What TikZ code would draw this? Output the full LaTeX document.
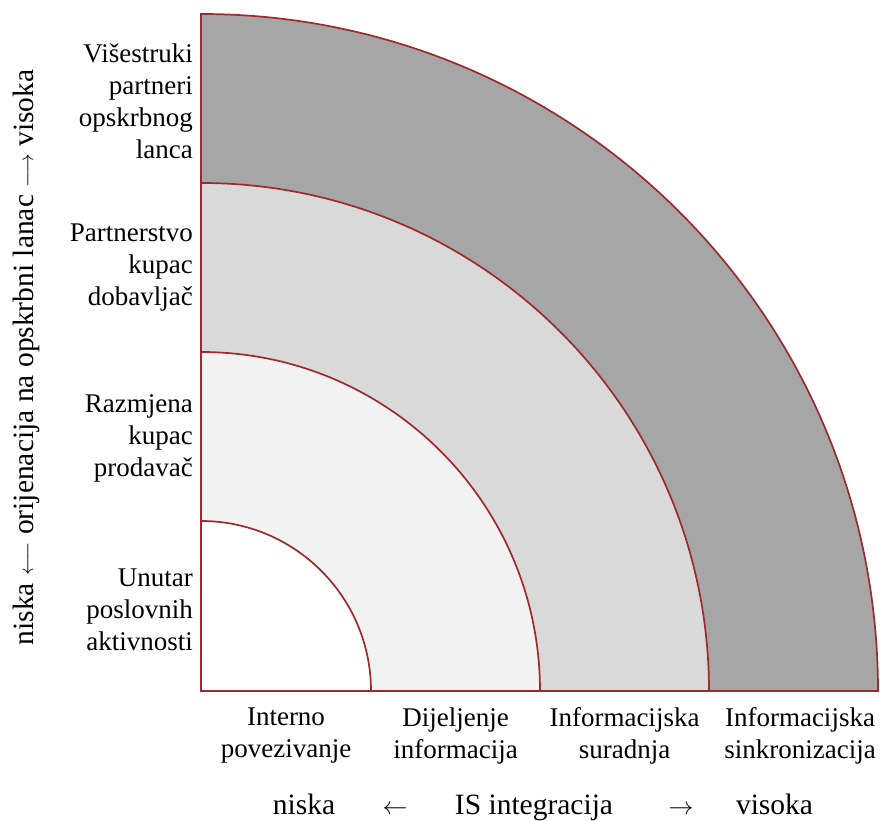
\documentclass[tikz,border=0pt]{standalone}
\usepackage{fontspec}
\setmainfont{Liberation Serif}
\definecolor{edge}{HTML}{9E2A2B}
\definecolor{bandA}{HTML}{A6A6A6}
\definecolor{bandB}{HTML}{D9D9D9}
\definecolor{bandC}{HTML}{F2F2F2}
\newcommand{\axfont}{\fontsize{29.5}{35}\selectfont}
\newcommand{\shortarr}[1]{{\fontsize{24.88}{30}\selectfont$#1$}}
\newcommand{\longarr}[1]{{\fontsize{20.74}{25}\selectfont$#1$}}
\tikzset{
  band/.style={draw=edge, line width=1.7pt, line join=miter},
  lbl/.style={inner sep=0pt, font=\fontsize{27}{32}\selectfont},
  leftlbl/.style={lbl, align=right, anchor=east},
  botlbl/.style={lbl, align=center, anchor=center},
  axis/.style={inner sep=0pt, anchor=base, font=\axfont},
}
\begin{document}
\begin{tikzpicture}[x=1pt,y=1pt]
\useasboundingbox (0,0) rectangle (880,821);
\coordinate (C) at (201,130);
% quarter rings, outer to inner
\filldraw[band, fill=bandA] (C) -- ++(677pt,0) arc (0:90:677pt) -- cycle;
\filldraw[band, fill=bandB] (C) -- ++(508pt,0) arc (0:90:508pt) -- cycle;
\filldraw[band, fill=bandC] (C) -- ++(339pt,0) arc (0:90:339pt) -- cycle;
\filldraw[band, fill=white] (C) -- ++(170pt,0) arc (0:90:170pt) -- cycle;
% left labels
\node[leftlbl] (l4) at (193,720) {Višestruki\\partneri\\opskrbnog\\lanca};
\node[leftlbl] (l3) at (193,553) {Partnerstvo\\kupac\\dobavljač};
\node[leftlbl] (l2) at (193,383) {Razmjena\\kupac\\prodavač};
\node[leftlbl] (l1) at (193,211) {Unutar\\poslovnih\\aktivnosti};
% bottom labels
\node[botlbl] (b1) at (286,85) {Interno\\povezivanje};
\node[botlbl] (b2) at (455.5,85) {Dijeljenje\\informacija};
\node[botlbl] (b3) at (624.5,85) {Informacijska\\suradnja};
\node[botlbl] (b4) at (800,85) {Informacijska\\sinkronizacija};
% bottom axis
\node[axis] (xn) at (304,6) {niska};
\node[axis] (xl) at (395,6) {\shortarr{\leftarrow}};
\node[axis] (xt) at (534,6) {IS integracija};
\node[axis] (xr) at (681,6) {\shortarr{\rightarrow}};
\node[axis] (xv) at (774.5,6) {visoka};
% left axis
\node[axis, rotate=90] (ya) at (33,463.5) {niska \longarr{\longleftarrow} orijenacija na opskrbni lanac \longarr{\longrightarrow} visoka};
\end{tikzpicture}
\end{document}
